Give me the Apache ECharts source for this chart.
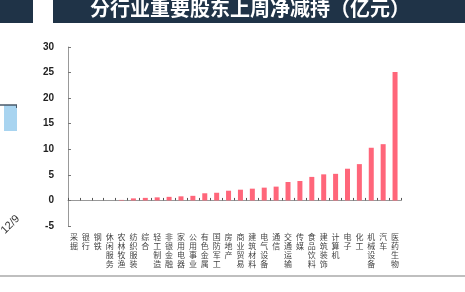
<!DOCTYPE html>
<html lang="zh">
<head>
<meta charset="utf-8">
<script src="https://cdn.jsdelivr.net/npm/echarts@6/dist/echarts.min.js"></script>
<title>分行业重要股东上周净减持</title>
<style>
  html, body { margin: 0; padding: 0; background: #fff; }
  #chart { width: 465px; height: 292px; }
</style>
</head>
<body>
<div id="chart"></div>
<script>
// 行业
var categories = ['采掘', '银行', '钢铁', '休闲服务', '农林牧渔', '纺织服装', '综合', '轻工制造',
    '非银金融', '家用电器', '公用事业', '有色金属', '国防军工', '房地产', '商业贸易', '建筑材料',
    '电气设备', '通信', '交通运输', '传媒', '食品饮料', '建筑装饰', '计算机', '电子', '化工',
    '机械设备', '汽车', '医药生物'];
// 净减持（亿元）
var values = [0, 0, 0, 0, 0.1, 0.4, 0.5, 0.6, 0.7, 0.8, 0.9, 1.4, 1.5, 1.9, 2.1, 2.3,
    2.5, 2.7, 3.6, 3.8, 4.6, 5.1, 5.2, 6.2, 7.1, 10.3, 11.0, 25.1];
var yTicks = { min: -5, max: 30, step: 5 };

var myChart = echarts.init(document.getElementById('chart'));
var option = {
    animation: false,
    grid: { left: 68, right: 64, top: 47, bottom: 66 },
    xAxis: [{
        type: 'category',
        data: categories,
        axisLine: { onZero: true, lineStyle: { color: '#999', width: 1 } },
        axisTick: { show: true, inside: true, interval: 0, length: 2.5, lineStyle: { color: '#555' } },
        axisLabel: { show: false }
    }, {
        type: 'category',
        data: categories,
        position: 'bottom',
        axisLine: { show: false, onZero: false },
        axisTick: { show: false },
        axisLabel: {
            interval: 0,
            margin: 6,
            fontSize: 8,
            lineHeight: 9,
            color: '#444',
            verticalAlign: 'top',
            align: 'center',
            fontFamily: 'Noto Sans CJK SC',
            formatter: function (v) { return v.split('').join('\n'); }
        }
    }],
    yAxis: {
        type: 'value',
        min: yTicks.min,
        max: yTicks.max,
        interval: yTicks.step,
        axisLine: { show: true, lineStyle: { color: '#999' } },
        axisTick: { show: true, inside: true, length: 3, lineStyle: { color: '#777' } },
        splitLine: { show: false },
        axisLabel: { margin: 14, fontSize: 10, fontWeight: 'bold', color: '#222', fontFamily: 'Arial' }
    },
    series: [{
        type: 'bar',
        xAxisIndex: 0,
        data: values,
        barWidth: 5,
        itemStyle: { color: '#ff667a' }
    }],
    graphic: [
        { type: 'rect', shape: { x: 0, y: 0, width: 33, height: 23 }, style: { fill: '#1f3347' } },
        { type: 'rect', shape: { x: 53, y: 0, width: 412, height: 23 }, style: { fill: '#1f3347' } },
        { type: 'text', x: 250, y: 8, style: { text: '分行业重要股东上周净减持（亿元）', fill: '#fff',
            font: 'bold 20px "Noto Sans CJK SC"', align: 'center', verticalAlign: 'middle' } },
        { type: 'rect', shape: { x: 4, y: 105, width: 13, height: 26 }, style: { fill: '#a8d4f0' } },
        { type: 'line', shape: { x1: 0, y1: 105, x2: 17, y2: 105 }, style: { stroke: '#4a5a6a', lineWidth: 1.5 } },
        { type: 'line', shape: { x1: 16.5, y1: 105, x2: 16.5, y2: 108 }, style: { stroke: '#4a5a6a', lineWidth: 1 } },
        { type: 'text', x: 18, y: 217, rotation: Math.PI / 4, style: { text: '12/9', fill: '#333',
            font: '11px Arial', align: 'right', verticalAlign: 'middle' } },
        { type: 'line', shape: { x1: 0, y1: 276, x2: 465, y2: 276 }, style: { stroke: '#aaa', lineWidth: 1.5 } }
    ]
};
myChart.setOption(option);
</script>
</body>
</html>
